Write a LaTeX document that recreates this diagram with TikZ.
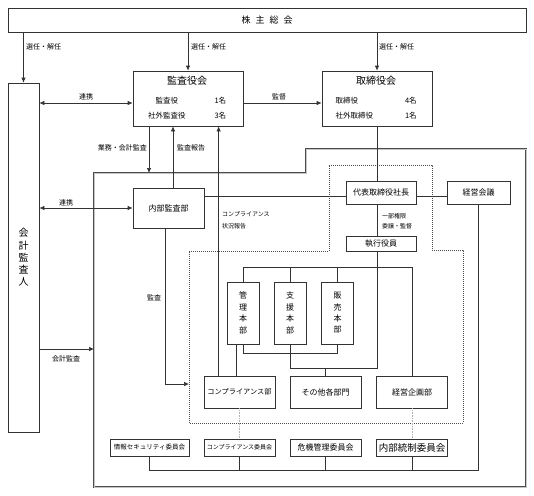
\documentclass[tikz,border=0pt]{standalone}
\usepackage{fontspec}
\setmainfont{Noto Sans CJK JP}
\usetikzlibrary{arrows.meta}

\begin{document}
\begin{tikzpicture}[x=1pt, y=-1pt,
    box/.style={rectangle, draw=black!80, line width=0.7pt, fill=white, inner sep=0pt, align=center, font=\fontsize{8}{10}\selectfont},
    board/.style={box, minimum width=110pt, minimum height=55pt, font=\fontsize{7.5}{15}\selectfont},
    honbu/.style={box, minimum width=32pt, minimum height=62pt, font=\fontsize{8}{11.4}\selectfont},
    dept/.style={box, minimum width=71pt, minimum height=32pt},
    iinkai/.style={box, minimum width=71pt, minimum height=17pt},
    arrow/.style={-{Latex[length=5pt,width=4.5pt]}, line width=0.7pt, draw=black!80},
    twoway/.style={arrow, {Latex[length=5pt,width=4.5pt]}-{Latex[length=5pt,width=4.5pt]}},
    link/.style={line width=0.7pt, draw=black!80},
    tie/.style={line width=0.6pt, draw=gray!60, densely dotted},
    note/.style={font=\fontsize{7}{9}\selectfont, inner sep=0pt},
    smallnote/.style={font=\fontsize{6}{12}\selectfont, inner sep=0pt, align=left},
    frame/.style={draw=black!70, line width=0.6pt, double=gray!45, double distance=1pt},
    execarea/.style={draw=black!70, line width=0.6pt, dash pattern=on 1pt off 1pt}
]
\useasboundingbox (0,0) rectangle (534,495);

% Cadres : organisation interne et zone d'execution
\draw[frame] (94,173) -- (306,173) -- (306,149) -- (526,149) -- (526,487) -- (94,487) -- cycle;
\draw[execarea] (329,165) -- (432,165) -- (432,250) -- (463,250) -- (463,423) -- (189,423) -- (189,251) -- (329,251) -- cycle;
\coordinate (frame-top) at (149,173);
\coordinate (frame-left) at (94,349);
\coordinate (exec-left) at (189,384);

% Assemblee des actionnaires (en haut)
\node[box, minimum width=518pt, minimum height=24pt, font=\fontsize{9}{10}\selectfont] (sokai) at (267,20) {株\hspace{5pt}主\hspace{5pt}総\hspace{5pt}会};

% Auditeur externe (colonne gauche)
\node[box, minimum width=31pt, minimum height=349pt, font=\fontsize{10}{12.3}\selectfont] (kaikei) at (23.5,257.5) {会\\計\\監\\査\\人};

% Conseils
\node[board] (kansa) at (188,98.5) {
    \begin{tabular}{@{}c@{\hspace{29pt}}c@{}}
    \multicolumn{2}{@{}c@{}}{\fontsize{10}{10}\selectfont 監査役会}\\[4pt]
    監査役 & 1名\\
    社外監査役 & 3名
    \end{tabular}
};

\node[board] (torishimari) at (377,98.5) {
    \begin{tabular}{@{}l@{\hspace{32pt}}c@{}}
    \multicolumn{2}{@{}c@{}}{\fontsize{10}{10}\selectfont 取締役会}\\[4pt]
    取締役 & 4名\\
    社外取締役 & 1名
    \end{tabular}
};

% Direction
\node[box, minimum width=71pt, minimum height=40pt] (naibu) at (168.5,208) {内部監査部};
\node[box, minimum width=70pt, minimum height=23pt] (daihyo) at (381,192.5) {代表取締役社長};
\node[box, minimum width=63pt, minimum height=23pt] (keiei) at (478.5,192.5) {経営会議};
\node[box, minimum width=70pt, minimum height=15pt] (shikko) at (381,243.5) {執行役員};

% Divisions
\node[honbu] (kanri) at (243,313) {管\\理\\本\\部};
\node[honbu] (shien) at (290,313) {支\\援\\本\\部};
\node[honbu] (hanbai) at (337.5,313) {販\\売\\本\\部};

% Departements
\node[dept, font=\fontsize{7.2}{9}\selectfont] (compbu) at (239.5,392) {コンプライアンス部};
\node[dept] (sonota) at (325.5,392) {その他各部門};
\node[dept] (kikaku) at (412,392) {経営企画部};

% Comites (en bas)
\node[iinkai, minimum width=79pt, font=\fontsize{6.5}{8}\selectfont] (joho) at (149.5,447.5) {情報セキュリティ委員会};
\node[iinkai, font=\fontsize{6}{8}\selectfont] (compiin) at (239.5,447.5) {コンプライアンス委員会};
\node[iinkai] (kiki) at (325.5,447.5) {危機管理委員会};
\node[iinkai, font=\fontsize{9.5}{10}\selectfont] (naibutosei) at (412,447.5) {内部統制委員会};

% Nomination / revocation
\draw[arrow] (kaikei.north |- sokai.south) -- (kaikei.north);
\draw[arrow] (kansa.north |- sokai.south) -- (kansa.north);
\draw[arrow] (torishimari.north |- sokai.south) -- (torishimari.north);
\node[note, anchor=west] (sennin1) at (26,47) {選任・解任};
\node[note, anchor=west] (sennin2) at (191,47) {選任・解任};
\node[note, anchor=west] (sennin3) at (379,47) {選任・解任};

% Liens des conseils
\coordinate (kansa-in) at ([yshift=-4.5pt]kansa.west);
\coordinate (kansa-out) at ([yshift=-4.5pt]kansa.east);
\draw[twoway] (kaikei.east |- kansa-in) -- (kansa-in);
\draw[arrow] (kansa-out) -- (torishimari.west |- kansa-out);
\node[note] (renkei1) at (86,97) {連携};
\node[note] (kantoku) at (279,97) {監督};

\draw[arrow] (kansa.south -| frame-top) -- (frame-top);
\draw[arrow] ([xshift=4.5pt]naibu.north) -- ([xshift=4.5pt]naibu.north |- kansa.south);
\draw[arrow] ([xshift=15pt]compbu.north west) -- ([xshift=15pt]compbu.north west |- kansa.south);
\node[note, anchor=east] (gyomu) at (147,148) {業務・会計監査};
\node[note, anchor=west] (hokoku) at (177,148) {監査報告};
\node[smallnote, anchor=west] (jokyo) at (222,220) {コンプライアンス\\状況報告};

% Auditeur externe vers l'interne
\draw[twoway] (kaikei.east |- naibu.west) -- (naibu.west);
\draw[arrow] (kaikei.east |- frame-left) -- (frame-left);
\node[note] (renkei2) at (66,202.5) {連携};
\node[note] (kaikeikansa) at (66,359) {会計監査};

% Chaine de direction
\draw[link] (torishimari.south) -- (torishimari.south |- daihyo.north);
\draw[link] ([yshift=-3.5pt]naibu.east |- daihyo.west) -- ([yshift=-3.5pt]daihyo.west);
\draw[link] ([yshift=-3.5pt]daihyo.east) -- ([yshift=-3.5pt]keiei.west);
\draw[link] (torishimari.south |- daihyo.south) -- (torishimari.south |- shikko.north);
\node[smallnote, anchor=west, font=\fontsize{6}{10.5}\selectfont] (inin) at (382,221) {一部権限\\委譲・監督};

% Arborescence des divisions
\coordinate (top-bus) at (0,267);
\coordinate (low-bus) at (0,353);
\coordinate (mid-bus) at (0,368);
\draw[link] (kanri.north) |- (kikaku.north |- top-bus) -- (kikaku.north);
\draw[link] (shien.north) -- (shien.north |- top-bus);
\draw[link] (hanbai.north) -- (hanbai.north |- top-bus);
\draw[link] (kanri.south) |- (hanbai.south |- low-bus) -- (hanbai.south);
\draw[link] (shien.south) -- (shien.south |- mid-bus);
\draw[link] (torishimari.south |- shikko.south) |- (shien.south |- mid-bus);
\draw[link] (sonota.north) -- (sonota.north |- mid-bus);
\draw[link] ([xshift=-7pt]kanri.south) -- ([xshift=-7pt]kanri.south |- compbu.north);

% Audit interne
\draw[arrow] ([xshift=-3.5pt]naibu.south) |- (exec-left);
\node[note] (kansa2) at (154,298) {監査};

% Comites
\coordinate (iinkai-bus) at (0,470);
\draw[link] (keiei.south) |- (joho.south |- iinkai-bus) -- (joho.south);
\draw[link] (compiin.south) -- (compiin.south |- iinkai-bus);
\draw[link] (kiki.south) -- (kiki.south |- iinkai-bus);
\draw[link] (naibutosei.south) -- (naibutosei.south |- iinkai-bus);
\draw[tie] (compbu.south) -- (compiin.north);
\draw[tie] (kikaku.south) -- (naibutosei.north);

\end{tikzpicture}
\end{document}
